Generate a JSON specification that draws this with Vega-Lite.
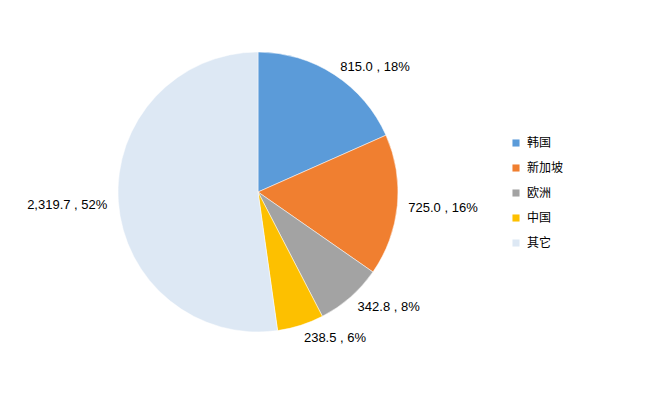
{
  "$schema": "https://vega.github.io/schema/vega-lite/v6.json",
  "width": 516,
  "height": 384,
  "autosize": {"type": "none"},
  "padding": {"left": 0, "top": 0, "right": 141, "bottom": 32},
  "background": "white",
  "view": {"stroke": null},
  "data": {
    "values": [
      {"region": "韩国", "value": 815.0, "label": "815.0 , 18%", "order": 1},
      {"region": "新加坡", "value": 725.0, "label": "725.0 , 16%", "order": 2},
      {"region": "欧洲", "value": 342.8, "label": "342.8 , 8%", "order": 3},
      {"region": "中国", "value": 238.5, "label": "238.5 , 6%", "order": 4},
      {"region": "其它", "value": 2319.7, "label": "2,319.7 , 52%", "order": 5}
    ]
  },
  "encoding": {
    "theta": {"field": "value", "type": "quantitative", "stack": true},
    "order": {"field": "order", "type": "quantitative"}
  },
  "layer": [
    {
      "mark": {"type": "arc", "outerRadius": 140, "stroke": "white", "strokeWidth": 0.5},
      "encoding": {
        "color": {
          "field": "region",
          "type": "nominal",
          "sort": ["韩国", "新加坡", "欧洲", "中国", "其它"],
          "scale": {
            "domain": ["韩国", "新加坡", "欧洲", "中国", "其它"],
            "range": ["#5b9bd9", "#f07f30", "#a3a3a3", "#fdc000", "#dde8f4"]
          },
          "legend": {
            "title": null,
            "orient": "none",
            "legendX": 510,
            "legendY": 137,
            "symbolType": "square",
            "symbolSize": 50,
            "symbolStrokeWidth": 0,
            "labelFont": "Noto Sans CJK SC",
            "labelFontSize": 12,
            "labelColor": "#000000",
            "rowPadding": 13,
            "labelOffset": 5
          }
        }
      }
    },
    {
      "mark": {"type": "text", "radius": 151, "align": {"expr": "datum.region == '其它' ? 'right' : 'left'"}, "baseline": "middle", "dy": 2, "font": "Liberation Sans", "fontSize": 13, "color": "#000000"},
      "encoding": {
        "text": {"field": "label", "type": "nominal"}
      }
    }
  ]
}
